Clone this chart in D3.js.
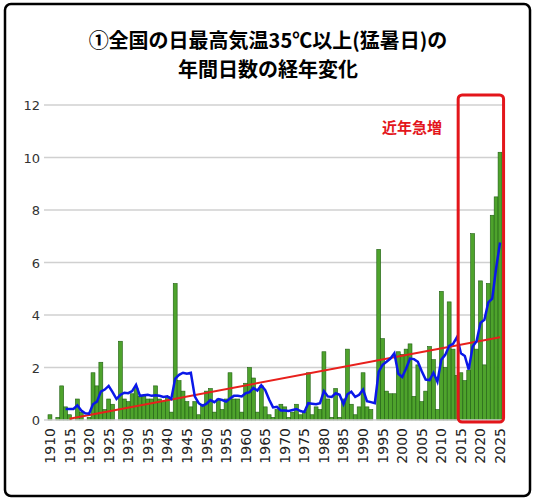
<!DOCTYPE html>
<html><head><meta charset="utf-8">
<script src="https://cdn.jsdelivr.net/npm/d3@7"></script>
<style>body{margin:0;background:#fff;font-family:"Noto Sans CJK JP","Noto Sans",sans-serif}</style>
</head><body>
<script>
const startYear = 1910;
const days = [
  0.2,0,0.1,1.3,0.5,0.2,0,0.8,0.3,0,
  0.1,1.8,1.3,2.2,0.4,0.8,0.6,0,3.0,0.8,
  0.7,1.0,1.2,0.9,0.9,0.8,0.8,1.3,0.8,0.7,
  0.9,0.3,5.2,1.5,1.1,0.7,0.5,0.7,0.2,0.6,
  1.1,1.2,0.3,0.8,0.4,0.8,1.8,0.8,0.8,0.3,
  1.4,2.0,1.6,0.3,1.3,0.5,0.2,0.1,0.4,0.6,
  0.5,0.1,0.3,0.6,0.2,0.3,1.8,0.2,0.5,0.4,
  2.6,0.8,0.1,1.2,0.1,0.8,2.7,0.6,0.2,0.5,
  1.8,0.5,0.4,0,6.5,3.1,1.1,1.0,1.0,2.6,
  2.5,2.7,2.9,0.9,2.1,0.7,1.1,2.8,2.3,0.4,
  4.9,2.0,4.5,2.7,1.7,1.8,1.5,1.9,7.1,2.7,
  5.3,2.1,5.2,7.8,8.5,10.2
];
const years = days.map((d, i) => startYear + i);
const trend = [[1915, 0.05], [2025, 3.15]];
const yTicks = [0, 2, 4, 6, 8, 10, 12];
const xTicks = d3.range(1910, 2026, 5);

// 5-year trailing running mean
const avg = days.map((d, i) => i < 4 ? null : [years[i], d3.mean(days.slice(i - 4, i + 1))]).filter(d => d);

const W = 536, H = 502;
const svg = d3.select("body").append("svg").attr("width", W).attr("height", H);

svg.append("rect").attr("x", 5).attr("y", 4).attr("width", 525).attr("height", 492)
  .attr("rx", 6).attr("fill", "#fff").attr("stroke", "#000").attr("stroke-width", 2.5);

svg.append("text").attr("x", 268).attr("y", 48).attr("text-anchor", "middle")
  .attr("font-size", 20).attr("font-weight", "bold").text("①全国の日最高気温35℃以上(猛暑日)の");
svg.append("text").attr("x", 268).attr("y", 77).attr("text-anchor", "middle")
  .attr("font-size", 20).attr("font-weight", "bold").text("年間日数の経年変化");

const x = d3.scaleLinear().domain([startYear - 0.5, 2025.5]).range([48, 502]);
const y = d3.scaleLinear().domain([0, 12]).range([420, 105]);
const bw = x(1) - x(0);

svg.append("g").selectAll("line").data(yTicks.slice(1)).join("line")
  .attr("x1", 44).attr("x2", 505).attr("y1", d => y(d)).attr("y2", d => y(d))
  .attr("stroke", "#d0d0d0").attr("stroke-width", 1.5);

svg.append("g").selectAll("text").data(yTicks).join("text")
  .attr("x", 40).attr("y", d => y(d) + 5).attr("text-anchor", "end")
  .attr("font-size", 13).attr("font-family", "DejaVu Sans").attr("fill", "#333").text(d => d);

svg.append("g").selectAll("rect").data(years).join("rect")
  .attr("x", d => x(d) - bw / 2).attr("width", bw)
  .attr("y", (d, i) => y(days[i])).attr("height", (d, i) => y(0) - y(days[i]))
  .attr("fill", "#4ea32c").attr("stroke", "#1f5e12").attr("stroke-width", 0.6);

svg.append("line").attr("x1", 44).attr("x2", 505).attr("y1", y(0)).attr("y2", y(0))
  .attr("stroke", "#d0d0d0").attr("stroke-width", 1.5);

svg.append("path").datum(trend)
  .attr("d", d3.line().x(d => x(d[0])).y(d => y(d[1])))
  .attr("stroke", "#e8201c").attr("stroke-width", 2).attr("fill", "none");

svg.append("path").datum(avg)
  .attr("d", d3.line().x(d => x(d[0])).y(d => y(d[1])))
  .attr("stroke", "#0a18e8").attr("stroke-width", 2.5).attr("fill", "none");

svg.append("g").selectAll("text").data(xTicks).join("text")
  .attr("transform", d => `translate(${x(d) + 5},${428}) rotate(-90)`)
  .attr("text-anchor", "end").attr("font-size", 14).attr("font-family", "DejaVu Sans")
  .attr("fill", "#222").text(d => d);

svg.append("rect").attr("x", x(2014.3)).attr("y", 95).attr("width", x(2025.9) - x(2014.3)).attr("height", 327)
  .attr("rx", 4).attr("fill", "none").attr("stroke", "#e3161b").attr("stroke-width", 3);

svg.append("text").attr("x", 412).attr("y", 133).attr("text-anchor", "middle")
  .attr("font-size", 15).attr("font-weight", "bold").attr("fill", "#e3161b").text("近年急増");
</script>
</body></html>
